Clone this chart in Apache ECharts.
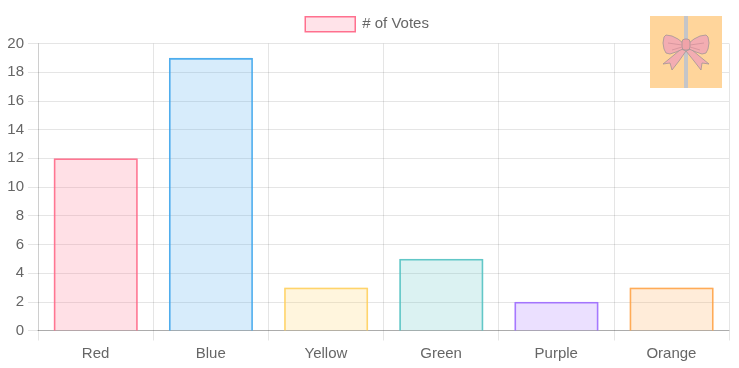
<!DOCTYPE html>
<html><head><meta charset="utf-8">
<style>html,body{margin:0;padding:0;background:#fff}#c{width:739px;height:368px}</style>
<script src="https://cdn.jsdelivr.net/npm/echarts@6/dist/echarts.min.js"></script>
</head><body><div id="c"></div>
<script>
const categories = ['Red','Blue','Yellow','Green','Purple','Orange'];
const votes = [12,19,3,5,2,3];
const fills = ['rgba(255,99,132,0.2)','rgba(54,162,235,0.2)','rgba(255,206,86,0.2)','rgba(75,192,192,0.2)','rgba(153,102,255,0.2)','rgba(255,159,64,0.2)'];
const borders = ['rgb(255,99,132)','rgb(54,162,235)','rgb(255,206,86)','rgb(75,192,192)','rgb(153,102,255)','rgb(255,159,64)'];
const seriesName = '# of Votes';
const font = '"Liberation Sans", Arial, sans-serif';
const bowFill = '#f3adb2', bowLine = '#a39497';
const wing = (points) => ({type:'polygon',z:102,shape:{points},style:{fill:bowFill,stroke:bowLine,lineWidth:0.8}});
const crease = (x1,y1,x2,y2) => ({type:'line',z:104,shape:{x1,y1,x2,y2},style:{stroke:'#d0929a',lineWidth:0.8}});
const chart = echarts.init(document.getElementById('c'),null,{renderer:'canvas'});
chart.setOption({
  animation:false,
  textStyle:{fontFamily:font},
  legend:{top:16,left:304.5,padding:0,itemWidth:50,itemHeight:15,icon:'rect',
    data:[{name:seriesName,itemStyle:{color:fills[0],borderColor:borders[0],borderWidth:1.5,opacity:0.9}}],
    textStyle:{color:'#666',fontSize:15,fontFamily:font,padding:[0,0,2,2]}},
  grid:{left:38,right:10,top:43.5,bottom:37.5,containLabel:false},
  xAxis:{type:'category',data:categories,
    axisLine:{lineStyle:{color:'rgba(0,0,0,0.25)',width:1}},
    axisTick:{show:true,length:10,lineStyle:{color:'rgba(0,0,0,0.1)'}},
    axisLabel:{color:'#666',fontSize:15,margin:16,fontFamily:font},
    splitLine:{show:true,lineStyle:{color:'rgba(0,0,0,0.1)',width:1}}},
  yAxis:{type:'value',min:0,max:20,interval:2,
    axisLine:{show:true,lineStyle:{color:'rgba(0,0,0,0.1)',width:1}},
    axisTick:{show:true,length:10,lineStyle:{color:'rgba(0,0,0,0.1)'}},
    axisLabel:{color:'#666',fontSize:15,margin:14,fontFamily:font},
    splitLine:{show:true,lineStyle:{color:'rgba(0,0,0,0.1)',width:1}}},
  series:[
    {name:seriesName,type:'bar',barWidth:'72%',
     itemStyle:{color:fills[0]},
     data:votes.map((v,i)=>({value:v,itemStyle:{color:fills[i]}}))},
    {name:seriesName,type:'custom',silent:true,
     data:votes.map((v,i)=>[i,v]),
     encode:{x:0,y:1},
     renderItem:(params,api)=>{
       const i=api.value(0), top=api.coord([i,api.value(1)]), base=api.coord([i,0]);
       const half=api.size([1,0])[0]*0.36-0.3, ty=top[1]+1, cx=top[0]+0.2;
       return {type:'polyline',shape:{points:[[cx-half,base[1]],[cx-half,ty],[cx+half,ty],[cx+half,base[1]]]},
         style:{fill:'none',stroke:borders[i],lineWidth:1.6,opacity:0.85}};
     }}
  ],
  graphic:{elements:[
    {type:'rect',z:100,shape:{x:650,y:16,width:72,height:72},style:{fill:'#ffd59b'}},
    {type:'rect',z:101,shape:{x:684,y:16,width:4,height:72},style:{fill:'#c5c5c8'}},
    wing([[681,49],[674,55],[663,64],[670,63],[672,70],[679,61],[686,51]]),
    wing([[691,49],[698,55],[709,64],[702,63],[701,70],[694,61],[686,51]]),
    wing([[683,43],[678,39],[672,36],[666,35],[664,37],[663,43],[664,49],[666,53],[670,54],[676,52],[683,49]]),
    wing([[689,43],[694,39],[700,36],[706,35],[708,37],[709,43],[708,49],[706,53],[702,54],[696,52],[689,49]]),
    crease(668,43,682,45),crease(672,50,682,47),crease(690,45,704,43),crease(690,47,700,50),
    {type:'rect',z:103,shape:{x:682,y:39,width:8,height:11,r:3},style:{fill:'#f0a3a9',stroke:bowLine,lineWidth:0.8}}
  ]}
});
</script></body></html>
